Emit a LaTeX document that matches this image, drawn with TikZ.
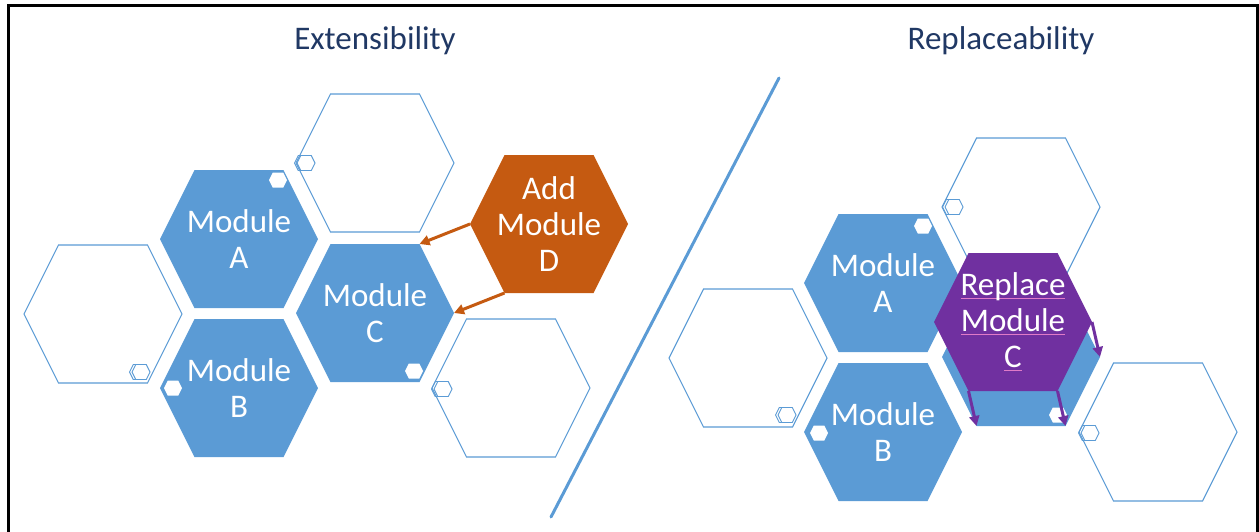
\documentclass[tikz,border=0pt]{standalone}
\usepackage{fontspec}
\setmainfont{Carlito}
\usetikzlibrary{arrows.meta}
\definecolor{hexblue}{HTML}{5B9BD5}
\definecolor{titlenavy}{HTML}{203864}
\definecolor{addorange}{HTML}{C55A11}
\definecolor{reppurple}{HTML}{7030A0}
\definecolor{ulpink}{HTML}{E07AC8}
\newcommand\pinkul[1]{\setbox0\hbox{#1}\rlap{\color{ulpink}\rule[-3pt]{\wd0}{0.8pt}}\box0}
\tikzset{
  hexa/.pic={
    \path[pic actions] (-79,0) -- (-44.5,-69) -- (44.5,-69) -- (79,0) -- (44.5,69) -- (-44.5,69) -- cycle;
    \coordinate (-c) at (0,0);
    \coordinate (-l) at (-79,0);
    \coordinate (-r) at (79,0);
    \coordinate (-tl) at (-44.5,-69);
    \coordinate (-tr) at (44.5,-69);
    \coordinate (-bl) at (-44.5,69);
    \coordinate (-br) at (44.5,69);
  },
  minihex/.pic={
    \path[pic actions] (-9,0) -- (-5.25,-7.5) -- (5.25,-7.5) -- (9,0) -- (5.25,7.5) -- (-5.25,7.5) -- cycle;
  },
  modfill/.style={fill=hexblue},
  emptyhex/.style={draw=hexblue, line width=1.1pt, fill=white},
  whitemark/.style={fill=white},
  outlinemark/.style={draw=hexblue, line width=0.9pt, fill=white},
  shadowmark/.style={draw=hexblue, line width=0.9pt},
  modtext/.style={text=white, align=center, inner sep=0pt, font=\fontsize{33}{36}\selectfont},
  titletext/.style={text=titlenavy, inner sep=0pt, anchor=base, font=\fontsize{33}{40}\selectfont},
  addarrow/.style={draw=addorange, line width=3pt, -{Triangle[length=10pt,width=10pt]}, shorten >=0pt},
  reparrow/.style={draw=reppurple, line width=3pt, -{Triangle[length=10pt,width=10pt]}},
  divider/.style={draw=hexblue, line width=3pt, line cap=round},
  framebox/.style={draw=black, line width=2.7pt}
}
\begin{document}
\begin{tikzpicture}[x=1pt, y=-1pt]
\useasboundingbox (0,0) rectangle (1259,531);
% frame
\coordinate (f1) at (8.7,540);
\coordinate (f2) at (8.7,5.2);
\coordinate (f3) at (1257.7,5.2);
\coordinate (f4) at (1257.7,540);
\draw[framebox] (f1) -- (f2) -- (f3) -- (f4);

% titles
\node[titletext] (t1) at (375,49) {Extensibility};
\node[titletext] (t2) at (1001,49) {Replaceability};

% divider
\coordinate (d1) at (779,78);
\coordinate (d2) at (551,517);
\draw[divider] (d1) -- (d2);

% ---------- left: extensibility ----------
\pic[emptyhex] (LE1) at (103,314) {hexa};
\pic[emptyhex] (LE2) at (375,163) {hexa};
\pic[emptyhex] (LE3) at (511,388) {hexa};
\pic[modfill] (LA) at (239,239) {hexa};
\pic[modfill] (LB) at (239,388) {hexa};
\pic[modfill] (LC) at (375,313) {hexa};
\pic[fill=addorange] (LD) at (549,224) {hexa};

\pic[whitemark] at (278,180) {minihex};
\pic[whitemark] at (173,388) {minihex};
\pic[whitemark] at (414,371) {minihex};
\pic[shadowmark] at (303.5,163) {minihex};
\pic[outlinemark] at (306,163) {minihex};
\pic[shadowmark] at (138.5,372) {minihex};
\pic[outlinemark] at (141,372) {minihex};
\pic[shadowmark] at (440.5,389) {minihex};
\pic[outlinemark] at (443,389) {minihex};

\node[modtext] (tLA) at (LA-c) {Module\\A};
\node[modtext] (tLB) at (LB-c) {Module\\B};
\node[modtext] (tLC) at (LC-c) {Module\\C};
\node[modtext] (tLD) at (LD-c) {Add\\Module\\D};

\draw[addarrow] (LD-l) -- (LC-tr);
\draw[addarrow] (LD-bl) -- (LC-r);

% ---------- right: replaceability ----------
\pic[emptyhex] (RE1) at (748,358) {hexa};
\pic[emptyhex] (RE2) at (1021,207) {hexa};
\pic[emptyhex] (RE3) at (1158,432) {hexa};
\pic[modfill] (RA) at (883,283) {hexa};
\pic[modfill] (RB) at (883,432) {hexa};
\pic[modfill] (RC) at (1021,357) {hexa};

\pic[whitemark] at (923,226) {minihex};
\pic[whitemark] at (819,433) {minihex};
\pic[whitemark] at (1058,415) {minihex};
\pic[shadowmark] at (951.5,207) {minihex};
\pic[outlinemark] at (954,207) {minihex};
\pic[shadowmark] at (784.5,415) {minihex};
\pic[outlinemark] at (787,415) {minihex};
\pic[shadowmark] at (1087.5,433) {minihex};
\pic[outlinemark] at (1090,433) {minihex};

\pic[fill=reppurple] (RP) at (1013,322) {hexa};

\node[modtext] (tRA) at (RA-c) {Module\\A};
\node[modtext] (tRB) at (RB-c) {Module\\B};
\node[modtext] (tRP) at (RP-c) {\pinkul{Replace}\\\pinkul{Module}\\\pinkul{C}};

\draw[reparrow] (RP-r) -- (RC-r);
\draw[reparrow] (RP-bl) -- (RC-bl);
\draw[reparrow] (RP-br) -- (RC-br);
\end{tikzpicture}
\end{document}
